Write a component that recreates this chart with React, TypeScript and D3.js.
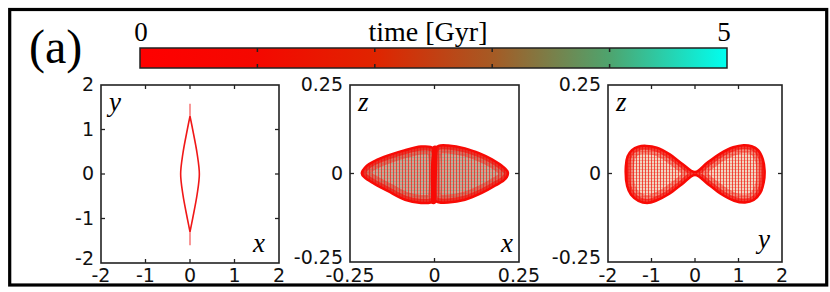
import React, { useRef, useEffect } from "react";
import * as d3 from "d3";

// colour bar: time in Gyr
const timeStops = [0, 1, 2, 3, 4, 5];
const timeColors = ["#ff0000", "#f40800", "#e02400", "#a65a24", "#4ea46e", "#00fff0"];
const timeLabels = [0, 5];

// tick values
const xyTicks = [-2, -1, 0, 1, 2];
const zTicks = [-0.25, 0, 0.25];

// x-y projection: lens shaped orbit (x, y)
const xyRight: [number, number][] = [
  [0, 1.3], [0.06, 1.0], [0.16, 0.46], [0.21, 0], [0.16, -0.46], [0.06, -1.0], [0, -1.3],
];
const xyLeft: [number, number][] = [
  [0, 1.3], [-0.06, 1.0], [-0.16, 0.46], [-0.21, 0], [-0.16, -0.46], [-0.06, -1.0], [0, -1.3],
];
const xyTips: [number, number][][] = [
  [[0, 1.3], [0, 1.58]],
  [[0, -1.3], [0, -1.6]],
];

// x-z projection: two lobes with a dense band at x = 0 (x, z)
const xzLeftLobe: [number, number][] = [
  [-0.215, 0.0], [-0.2, 0.022], [-0.176, 0.036], [-0.137, 0.051], [-0.087, 0.066],
  [-0.04, 0.076], [-0.012, 0.075], [0, 0.068], [0, -0.075], [-0.012, -0.082],
  [-0.04, -0.083], [-0.087, -0.074], [-0.137, -0.05], [-0.18, -0.028], [-0.207, -0.011],
];
const xzRightLobe: [number, number][] = [
  [0, 0.068], [0.012, 0.078], [0.04, 0.079], [0.09, 0.071], [0.135, 0.056],
  [0.17, 0.04], [0.2, 0.021], [0.217, 0.003], [0.21, -0.015], [0.18, -0.034],
  [0.14, -0.055], [0.09, -0.074], [0.04, -0.082], [0.012, -0.081], [0, -0.075],
];
const xzBand: [number, number][] = [[0.0015, 0.071], [-0.003, -0.079]];

// y-z projection: bow-tie (y, z)
const yzOutline: [number, number][] = [
  [-1.59, 0.02], [-1.55, 0.048], [-1.45, 0.066], [-1.3, 0.076], [-1.12, 0.078],
  [-0.88, 0.073], [-0.58, 0.054], [-0.28, 0.026], [0, 0.004], [0.28, 0.03],
  [0.58, 0.056], [0.88, 0.074], [1.12, 0.08], [1.3, 0.077], [1.45, 0.066],
  [1.56, 0.04], [1.6, 0.008], [1.58, -0.025], [1.5, -0.055], [1.35, -0.075],
  [1.15, -0.082], [0.9, -0.077], [0.6, -0.058], [0.3, -0.03], [0, -0.004],
  [-0.3, -0.03], [-0.6, -0.058], [-0.9, -0.077], [-1.1, -0.083], [-1.3, -0.077],
  [-1.47, -0.06], [-1.56, -0.035],
];

const App = () => {
  const ref = useRef<SVGSVGElement | null>(null);

  useEffect(() => {
    if (!ref.current) return;
    const svg = d3.select(ref.current);
    svg.selectAll("*").remove();

    const serif = "'Liberation Serif', 'Times New Roman', serif";
    const sans = "'DejaVu Sans', Verdana, sans-serif";
    const defs = svg.append("defs");

    // mesh texture for the orbit interiors
    const mesh = (id: string, base: string, vCol: string, hCol: string) => {
      const p = defs
        .append("pattern")
        .attr("id", id)
        .attr("patternUnits", "userSpaceOnUse")
        .attr("width", 3)
        .attr("height", 3);
      p.append("rect").attr("width", 3).attr("height", 3).attr("fill", base);
      p.append("rect").attr("y", 1).attr("width", 3).attr("height", 1).attr("fill", hCol);
      p.append("rect").attr("x", 0).attr("width", 1).attr("height", 3).attr("fill", vCol);
    };
    mesh("meshXZ", "#cfa392", "rgba(238,30,20,0.7)", "rgba(120,170,140,0.5)");
    mesh("meshYZ", "#f2d4c0", "rgba(240,30,20,0.75)", "rgba(235,90,70,0.45)");

    // outer frame
    svg
      .append("rect")
      .attr("x", 9.7)
      .attr("y", 9.5)
      .attr("width", 817)
      .attr("height", 275.5)
      .attr("fill", "none")
      .attr("stroke", "#000")
      .attr("stroke-width", 3.2);

    svg
      .append("text")
      .attr("x", 29)
      .attr("y", 63)
      .attr("font-family", serif)
      .attr("font-size", 48)
      .text("(a)");

    // colour bar
    const cb = { left: 140, right: 727, top: 48, bottom: 68 };
    const tScale = d3.scaleLinear().domain([0, 5]).range([cb.left, cb.right]);
    const grad = defs
      .append("linearGradient")
      .attr("id", "timeGrad")
      .attr("x1", "0%")
      .attr("x2", "100%");
    timeStops.forEach((t, i) => {
      grad
        .append("stop")
        .attr("offset", `${(t / 5) * 100}%`)
        .attr("stop-color", timeColors[i]);
    });
    svg
      .append("rect")
      .attr("x", cb.left)
      .attr("y", cb.top)
      .attr("width", cb.right - cb.left)
      .attr("height", cb.bottom - cb.top)
      .attr("fill", "url(#timeGrad)")
      .attr("stroke", "#222")
      .attr("stroke-width", 1.5);
    timeStops.slice(1, -1).forEach((t) => {
      [
        [cb.top, cb.top + 4],
        [cb.bottom - 4, cb.bottom],
      ].forEach(([a, b]) => {
        svg
          .append("line")
          .attr("x1", tScale(t))
          .attr("x2", tScale(t))
          .attr("y1", a)
          .attr("y2", b)
          .attr("stroke", "#222")
          .attr("stroke-width", 1.5);
      });
    });
    timeLabels.forEach((t) => {
      svg
        .append("text")
        .attr("x", tScale(t) + (t === 0 ? 1 : -3))
        .attr("y", 41)
        .attr("text-anchor", "middle")
        .attr("font-family", serif)
        .attr("font-size", 27)
        .text(String(t));
    });
    svg
      .append("text")
      .attr("x", 428)
      .attr("y", 41)
      .attr("text-anchor", "middle")
      .attr("font-family", serif)
      .attr("font-size", 28)
      .text("time [Gyr]");

    const panels = [
      {
        left: 101, top: 85, w: 178, h: 178,
        xDom: [-2, 2], yDom: [-2, 2], xTicks: xyTicks, yTicks: xyTicks,
        xLab: "x", yLab: "y", xLabDx: 14, xLabY: 252,
      },
      {
        left: 350, top: 85, w: 169, h: 177,
        xDom: [-0.25, 0.25], yDom: [-0.25, 0.25], xTicks: zTicks, yTicks: zTicks,
        xLab: "x", yLab: "z", xLabDx: 6, xLabY: 252,
      },
      {
        left: 608, top: 85, w: 174, h: 177,
        xDom: [-2, 2], yDom: [-0.25, 0.25], xTicks: xyTicks, yTicks: zTicks,
        xLab: "y", yLab: "z", xLabDx: 12, xLabY: 248,
      },
    ];

    const scales = panels.map((p, i) => {
      const g = svg.append("g").attr("class", `panel-${i}`);
      const x = d3.scaleLinear().domain(p.xDom).range([p.left, p.left + p.w]);
      const y = d3.scaleLinear().domain(p.yDom).range([p.top + p.h, p.top]);
      const inner = (v: number[], dom: number[]) =>
        v.filter((d) => d !== dom[0] && d !== dom[1]);

      // tick marks inside on all sides
      inner(p.xTicks, p.xDom).forEach((t) => {
        [
          [p.top, p.top + 4],
          [p.top + p.h - 4, p.top + p.h],
        ].forEach(([a, b]) =>
          g.append("line").attr("x1", x(t)).attr("x2", x(t)).attr("y1", a).attr("y2", b)
            .attr("stroke", "#222").attr("stroke-width", 1.3)
        );
      });
      inner(p.yTicks, p.yDom).forEach((t) => {
        [
          [p.left, p.left + 4],
          [p.left + p.w - 4, p.left + p.w],
        ].forEach(([a, b]) =>
          g.append("line").attr("y1", y(t)).attr("y2", y(t)).attr("x1", a).attr("x2", b)
            .attr("stroke", "#222").attr("stroke-width", 1.3)
        );
      });

      // tick labels
      p.xTicks.forEach((t) => {
        g.append("text")
          .attr("x", x(t))
          .attr("y", 281.5)
          .attr("text-anchor", "middle")
          .attr("font-family", sans)
          .attr("font-size", 19)
          .attr("fill", "#111")
          .text(String(t));
      });
      p.yTicks.forEach((t) => {
        g.append("text")
          .attr("x", p.left - 7)
          .attr("y", y(t) + (t === p.yDom[0] ? 2 : 6))
          .attr("text-anchor", "end")
          .attr("font-family", sans)
          .attr("font-size", 19)
          .attr("fill", "#111")
          .text(String(t));
      });

      // axis letters
      g.append("text")
        .attr("x", p.left + p.w - p.xLabDx)
        .attr("y", p.xLabY)
        .attr("text-anchor", "end")
        .attr("font-family", serif)
        .attr("font-style", "italic")
        .attr("font-size", 27)
        .text(p.xLab);
      g.append("text")
        .attr("x", p.left + 8)
        .attr("y", p.top + 26)
        .attr("font-family", serif)
        .attr("font-style", "italic")
        .attr("font-size", 27)
        .text(p.yLab);

      return { g, x, y, p };
    });

    // panel 1: x-y
    {
      const { g, x, y } = scales[0];
      const line = d3
        .line<[number, number]>()
        .x((d) => x(d[0]))
        .y((d) => y(d[1]))
        .curve(d3.curveCatmullRom);
      [xyRight, xyLeft].forEach((pts) =>
        g.append("path").attr("d", line(pts)).attr("fill", "none")
          .attr("stroke", "#f01818").attr("stroke-width", 1.6)
      );
      xyTips.forEach((pts) =>
        g.append("path").attr("d", d3.line<[number, number]>().x((d) => x(d[0])).y((d) => y(d[1]))(pts))
          .attr("fill", "none").attr("stroke", "#f46060").attr("stroke-width", 1.3)
      );
    }

    const drawBlob = (
      g: d3.Selection<SVGGElement, unknown, null, undefined>,
      x: d3.ScaleLinear<number, number>,
      y: d3.ScaleLinear<number, number>,
      pts: [number, number][],
      id: string,
      fill: string
    ) => {
      const closed = d3
        .line<[number, number]>()
        .x((d) => x(d[0]))
        .y((d) => y(d[1]))
        .curve(d3.curveCatmullRomClosed.alpha(0.5));
      const d = closed(pts) || "";
      defs.append("clipPath").attr("id", id).append("path").attr("d", d);
      g.append("path").attr("d", d).attr("fill", fill);
      g.append("path").attr("d", d).attr("fill", "none")
        .attr("stroke", "rgba(240,20,10,0.4)").attr("stroke-width", 16)
        .attr("clip-path", `url(#${id})`);
      g.append("path").attr("d", d).attr("fill", "none")
        .attr("stroke", "rgba(245,10,5,0.6)").attr("stroke-width", 8)
        .attr("clip-path", `url(#${id})`);
      g.append("path").attr("d", d).attr("fill", "none")
        .attr("stroke", "#f80a05").attr("stroke-width", 2.5);
    };

    // panel 2: x-z
    {
      const { g, x, y } = scales[1];
      drawBlob(g, x, y, xzLeftLobe, "clipL", "url(#meshXZ)");
      drawBlob(g, x, y, xzRightLobe, "clipR", "url(#meshXZ)");
      g.append("path")
        .attr("d", d3.line<[number, number]>().x((d) => x(d[0])).y((d) => y(d[1]))(xzBand))
        .attr("stroke", "#f80a05")
        .attr("stroke-width", 5.5)
        .attr("stroke-linecap", "round");
    }

    // panel 3: y-z
    {
      const { g, x, y } = scales[2];
      drawBlob(g, x, y, yzOutline, "clipYZ", "url(#meshYZ)");
    }

    // panel boxes on top
    panels.forEach((p) => {
      svg
        .append("rect")
        .attr("x", p.left)
        .attr("y", p.top)
        .attr("width", p.w)
        .attr("height", p.h)
        .attr("fill", "none")
        .attr("stroke", "#222")
        .attr("stroke-width", 1.6);
    });
  }, []);

  return (
    <svg
      ref={ref}
      width={830}
      height={292}
      style={{ position: "absolute", left: 0, top: 0, background: "#fff" }}
    />
  );
};

export default App;
